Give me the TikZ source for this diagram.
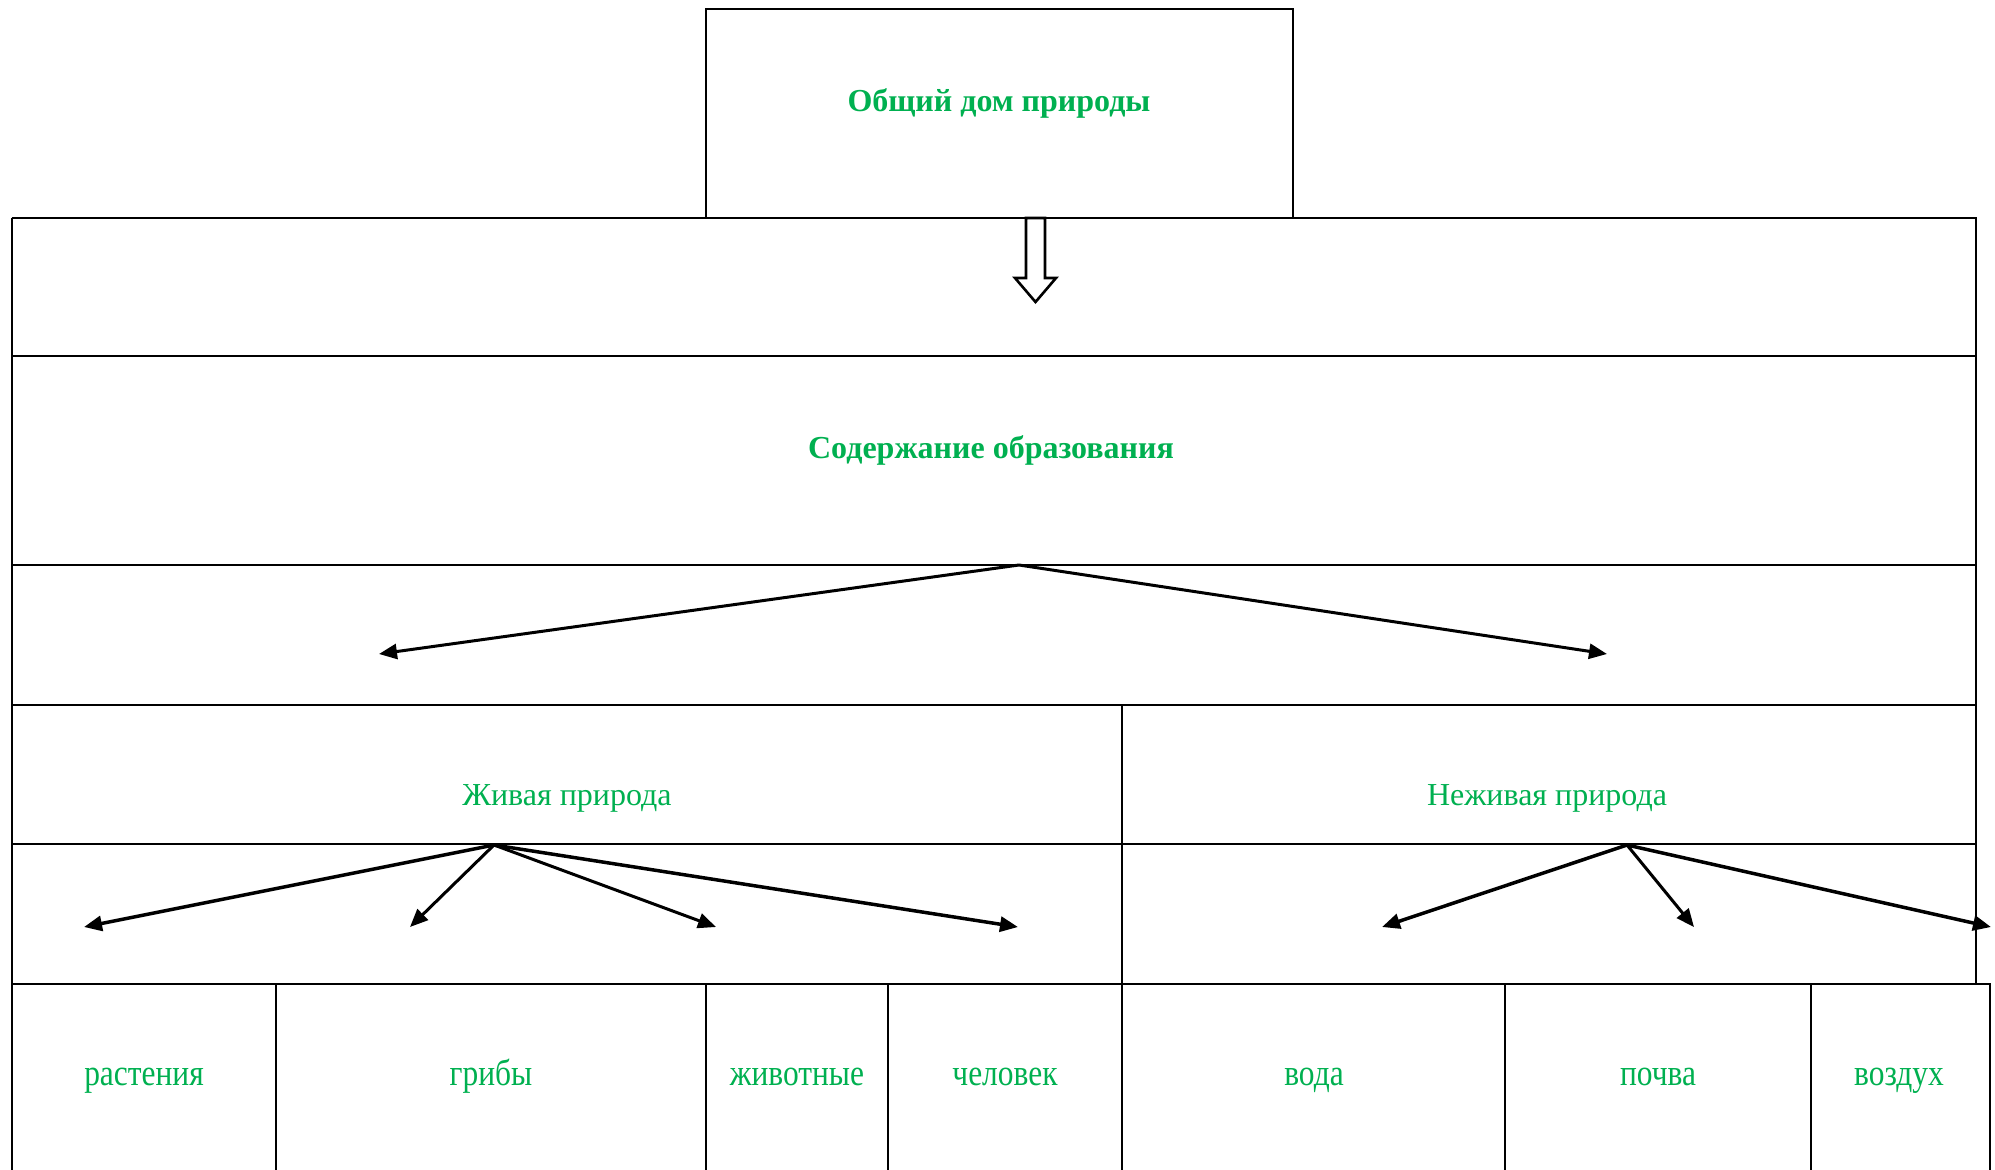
\documentclass[tikz,border=0pt]{standalone}
\usepackage{fontspec}
\setmainfont{Liberation Serif}
\newfontfamily\condfont[FakeStretch=0.85]{Liberation Serif}
\usetikzlibrary{arrows.meta}
\definecolor{grn}{RGB}{0,176,80}
\begin{document}
\begin{tikzpicture}[x=1pt,y=-1pt,
  frame/.style={line width=2pt,black},
  arr/.style={line width=3.5pt,-{Triangle[length=18pt,width=15pt]}},
  arrthin/.style={line width=3pt,-{Triangle[length=18pt,width=15pt]}},
  ttl/.style={text=grn,font=\fontsize{32}{38}\selectfont\bfseries,inner sep=0pt,anchor=base},
  lab/.style={text=grn,font=\fontsize{32}{38}\selectfont,inner sep=0pt,anchor=base},
  leaf/.style={text=grn,font=\condfont\fontsize{37}{42}\selectfont,inner sep=0pt,anchor=base}]
\useasboundingbox (0,0) rectangle (1995,1170);

% frame
\draw[frame] (706,9) rectangle (1293,218);
\draw[frame] (11.5,218) -- (1976,218) -- (1976,983.5);
\draw[frame] (11.5,218) -- (11.5,1175);
\foreach \yy in {356,565,705,844}
  \draw[frame] (11.5,\yy) -- (1976,\yy);
\draw[frame] (11.5,983.5) -- (1990,983.5) -- (1990,1175);
\draw[frame] (1122,705) -- (1122,1175);
\foreach \xx in {276,706,888,1505,1811}
  \draw[frame] (\xx,983.5) -- (\xx,1175);

% hollow arrow
\draw[line width=2.6pt,fill=white] (1026,218) -- (1026,278) -- (1015,278) -- (1035.5,302) -- (1056,278) -- (1045,278) -- (1045,218) -- cycle;

% texts
\node[ttl] (home) at (999,111) {Общий дом природы};
\node[ttl] (content) at (991,458) {Содержание образования};
\node[lab] (live) at (567,805) {Живая природа};
\node[lab] (nonlive) at (1547,805) {Неживая природа};
\node[leaf] (plants) at (144,1085) {растения};
\node[leaf] (fungi) at (491,1085) {грибы};
\node[leaf] (animals) at (797,1085) {животные};
\node[leaf] (human) at (1005,1085) {человек};
\node[leaf] (water) at (1314,1085) {вода};
\node[leaf] (soil) at (1658,1085) {почва};
\node[leaf] (air) at (1899,1085) {воздух};

% arrow coordinates
\coordinate (c1) at (1019,565);
\coordinate (l1) at (379,654);
\coordinate (r1) at (1607,654);
\coordinate (lv) at (494,845);
\coordinate (lv1) at (84,927);
\coordinate (lv2) at (410,927);
\coordinate (lv3) at (716,927);
\coordinate (lv4) at (1018,927);
\coordinate (nl) at (1627,845);
\coordinate (nl1) at (1382,927);
\coordinate (nl2) at (1694,927);
\coordinate (nl3) at (1991,927);

\draw[arrthin] (c1) -- (l1);
\draw[arrthin] (c1) -- (r1);
\draw[arr] (lv) -- (lv1);
\draw[arrthin] (lv) -- (lv2);
\draw[arrthin] (lv) -- (lv3);
\draw[arr] (lv) -- (lv4);
\draw[arr] (nl) -- (nl1);
\draw[arrthin] (nl) -- (nl2);
\draw[arr] (nl) -- (nl3);
\end{tikzpicture}
\end{document}
